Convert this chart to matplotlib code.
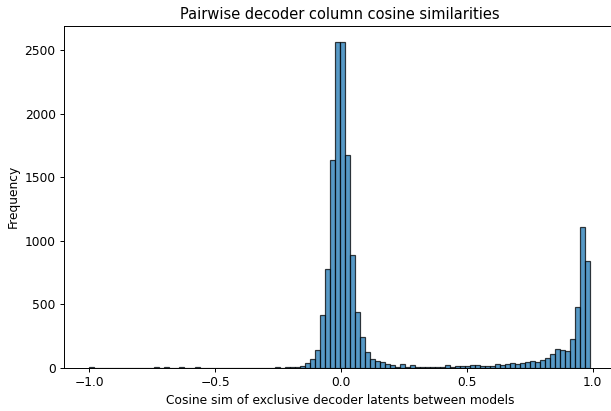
import numpy as np
import matplotlib
matplotlib.use('Agg')
import matplotlib.pyplot as plt

# Histogram counts (100 bins from -1.0 to 0.99)
bin_edges = np.linspace(-1.0, 0.99, 101)
counts = [
    3, 0, 0, 0, 0, 0, 0, 0, 0, 0,
    0, 0, 0, 2, 0, 2, 0, 0, 2, 0,
    0, 2, 0, 0, 0, 0, 0, 0, 0, 0,
    0, 0, 0, 0, 0, 0, 0, 2, 1, 3,
    4, 6, 14, 35, 67, 137, 413, 777, 1635, 2562,
    2563, 1677, 887, 439, 238, 126, 67, 53, 41, 31,
    24, 9, 29, 9, 19, 9, 9, 8, 9, 8,
    9, 22, 9, 10, 10, 10, 21, 21, 13, 13,
    13, 29, 24, 27, 37, 31, 34, 48, 55, 46,
    61, 75, 109, 147, 139, 131, 228, 475, 1110, 840,
]

title = 'Pairwise decoder column cosine similarities'
xlabel = 'Cosine sim of exclusive decoder latents between models'
ylabel = 'Frequency'

dpi = 88
fig = plt.figure(figsize=(611 / dpi, 411 / dpi), dpi=dpi)
ax = fig.add_axes([0.1052, 0.1054, 0.9018, 0.8314])

widths = np.diff(bin_edges)
ax.bar(bin_edges[:-1], counts, width=widths, align='edge',
       color='#1f77b4', alpha=0.75, edgecolor='black', linewidth=1.0)

ax.set_xlim(-1.0995, 1.0895)
ax.set_ylim(0, max(counts) * 1.05)
ax.set_xticks([-1.0, -0.5, 0.0, 0.5, 1.0])
ax.set_title(title)
ax.set_xlabel(xlabel)
ax.set_ylabel(ylabel)

fig.savefig('out.png', dpi=dpi)
